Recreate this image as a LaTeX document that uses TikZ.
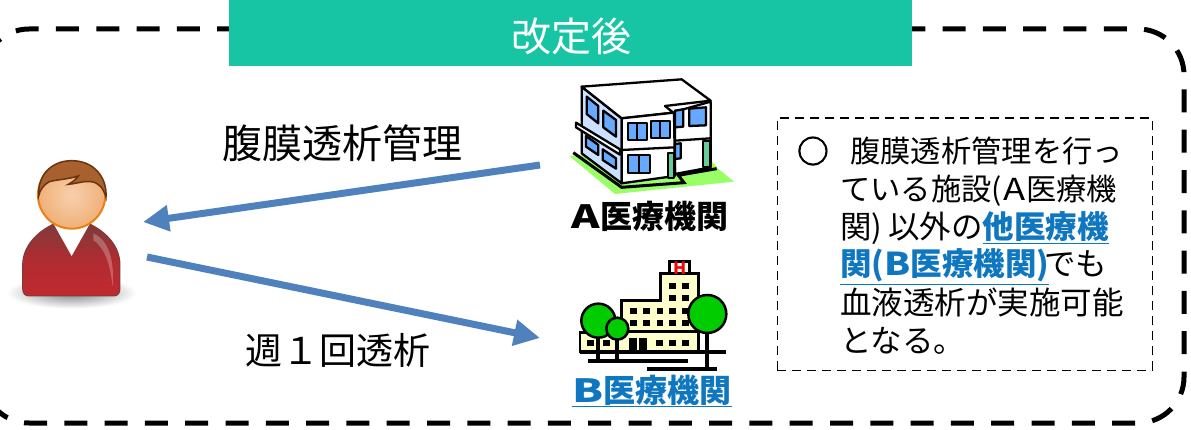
\documentclass[tikz,border=0pt]{standalone}
\usepackage{fontspec}
\setmainfont{Noto Sans CJK JP}
\newfontfamily\ringfont[FakeBold=2.5]{Noto Sans CJK JP}
\usetikzlibrary{arrows.meta}
\definecolor{banner}{HTML}{17C5A4}
\definecolor{linkblue}{HTML}{0F76C0}
\definecolor{arrowblue}{HTML}{4F81BD}
\definecolor{winblue}{HTML}{66AAFF}
\definecolor{wallblue}{HTML}{CCE0FF}
\definecolor{lawn}{HTML}{99FF66}
\definecolor{pillar}{HTML}{66CC99}
\definecolor{cream}{HTML}{FFFFCC}
\definecolor{tree}{HTML}{00CC00}
\definecolor{sweatertop}{HTML}{7E3B3B}
\definecolor{sweatermid}{HTML}{B02C30}
\definecolor{sweaterlow}{HTML}{C02A30}
\definecolor{hair}{HTML}{A8602E}
\definecolor{hairedge}{HTML}{6B3410}
\definecolor{skinin}{HTML}{F8D0AE}
\definecolor{skinout}{HTML}{F0B078}
\newcommand{\wideA}[1]{\scalebox{#1}[1]{A}}
\newcommand{\wideB}[1]{\scalebox{#1}[1]{B}}
\tikzset{
  outerdash/.style={draw=black,line width=5pt,dash pattern=on 23pt off 17.3pt,dash phase=37pt,rounded corners=46pt},
  innerdash/.style={draw=black,line width=1.6pt,dash pattern=on 9pt off 6pt},
  flow/.style={draw=arrowblue,line width=7pt,-{Triangle[length=26pt,width=25pt]}},
  biglabel/.style={font=\fontsize{37}{37}\selectfont,inner sep=0pt},
  hosplabel/.style={font=\fontsize{32}{32}\selectfont\bfseries,inner sep=0pt},
  noteline/.style={font=\fontsize{31.5}{31.5}\selectfont,inner sep=0pt,anchor=base west},
  ink/.style={draw=black,line width=2.3pt,line join=round},
  win/.style={ink,fill=winblue},
}
\begin{document}
\begin{tikzpicture}[x=1pt,y=-1pt]
\useasboundingbox (0,0) rectangle (1191,430);
\clip (0,0) rectangle (1191,430);
\fill[white] (0,0) rectangle (1191,430);
% outer frame and banner
\draw[outerdash] (-17,100) -- (-17,29) -- (1184,29) -- (1184,423) -- (-17,423) -- (-17,300);
\node[fill=banner,minimum width=683pt,minimum height=66pt,inner sep=0pt,anchor=north west] (banner) at (229,0) {};
\node[font=\fontsize{40}{40}\selectfont,text=white,inner sep=0pt] (bannertext) at (571,36) {改定後};
% note box
\node[innerdash,minimum width=375pt,minimum height=252pt,inner sep=0pt,anchor=north west] (notebox) at (776.5,117.5) {};
\node[noteline,font=\fontsize{31.5}{31.5}\ringfont] (n1a) at (797,163) {○};
\node[noteline,font=\fontsize{30.3}{30.3}\selectfont] (n1) at (850,163) {腹膜透析管理を行っ};
\node[noteline,font=\fontsize{30.3}{30.3}\selectfont] (n2) at (840,201) {ている施設(\kern2pt\wideA{1.2}医療機};
\node[noteline] (n3) at (840,239) {関)\kern6pt 以外の\textcolor{linkblue}{\bfseries\underline{他医療機}}};
\node[noteline] (n4) at (840,276) {\textcolor{linkblue}{\bfseries\underline{関(\wideB{1.2}医療機関)}}\kern-5pt でも};
\node[noteline] (n5) at (840,314) {血液透析が実施可能};
\node[noteline] (n6) at (840,352) {となる。};
% labels
\node[biglabel,font=\fontsize{40}{40}\selectfont] (l1) at (342,143) {腹膜透析管理};
\node[biglabel] (l2) at (338,350) {週１回透析};
\node[hosplabel] (la) at (650,216) {\wideA{1.35}医療機関};
\node[hosplabel,text=linkblue] (lb) at (652,391) {\underline{\wideB{1.4}医療機関}};
% person
\begin{scope}[shift={(0,140)},x=0.3333pt,y=-0.3333pt]
\shade[inner color=black!50,outer color=white] (215,458) ellipse [x radius=195,y radius=48];
\draw[draw=sweatertop,line width=1pt,top color=sweatertop,bottom color=sweaterlow,middle color=sweatermid]
  (68,445) -- (68,375) .. controls (68,320) and (110,275) .. (165,250) -- (265,250) .. controls (320,275) and (360,320) .. (360,375) -- (360,445) .. controls (360,462) and (352,468) .. (340,468) -- (88,468) .. controls (76,468) and (68,462) .. (68,445) -- cycle;
\fill[white] (160,250) -- (215,348) -- (270,250) -- cycle;
\fill[white,opacity=.25] (280,280) .. controls (315,295) and (345,340) .. (338,440) .. controls (330,370) and (315,325) .. (280,300) -- cycle;
\draw[draw=orange!70!brown,line width=2pt,inner color=skinin,outer color=skinout] (215,165) circle (101);
\fill[hair,draw=hairedge,line width=1.5pt] (116,168) .. controls (112,100) and (160,62) .. (215,62) .. controls (280,62) and (322,110) .. (318,172) .. controls (310,145) and (297,127) .. (272,125) .. controls (252,122) and (235,130) .. (205,133) .. controls (218,126) and (228,118) .. (235,108) .. controls (205,118) and (175,118) .. (148,125) .. controls (130,135) and (120,150) .. (116,168) -- cycle;
\end{scope}
% building A
\begin{scope}[shift={(560,70)},x=0.3333pt,y=-0.3333pt]
\fill[lawn] (28,258) -- (165,372) -- (522,335) -- (455,280) -- (300,240) -- cycle;
\fill[lawn!70!yellow!90!green] (345,310) -- (470,290) -- (440,260) -- (345,270) -- cycle;
\draw[ink,fill=wallblue] (65,50) -- (185,145) -- (185,340) -- (65,250) -- cycle;
\draw[ink,fill=white] (345,125) -- (452,95) -- (452,292) -- (345,312) -- cycle;
\draw[ink,fill=white] (65,50) -- (365,28) -- (452,92) -- (315,108) -- (340,128) -- (185,145) -- cycle;
\draw[ink,fill=white] (185,145) -- (342,128) -- (345,318) -- (185,340) -- cycle;
\draw[ink] (185,240) -- (345,232);
\draw[ink] (345,212) -- (452,205);
\draw[win] (80,80) -- (115,108) -- (115,160) -- (80,132) -- cycle;
\draw[win] (130,122) -- (168,150) -- (168,200) -- (130,172) -- cycle;
\draw[win] (78,198) -- (115,225) -- (115,255) -- (78,230) -- cycle;
\draw[win] (128,238) -- (168,265) -- (168,296) -- (128,270) -- cycle;
\draw[win] (203,160) rectangle (260,210); \draw[ink] (232,158) -- (232,210);
\draw[win] (272,152) rectangle (330,205); \draw[ink] (301,150) -- (301,205);
\draw[win] (203,255) rectangle (270,310); \draw[ink] (237,253) -- (237,310);
\draw[win] (345,122) -- (370,118) -- (370,170) -- (345,172) -- cycle;
\draw[win] (388,116) -- (438,112) -- (438,166) -- (388,168) -- cycle;
\draw[win] (345,222) -- (362,220) -- (362,265) -- (345,267) -- cycle;
\draw[ink,fill=white] (48,158) -- (180,238) -- (180,254) -- (48,172) -- cycle;
\draw[ink,fill=pillar] (324,248) rectangle (342,325);
\draw[ink,fill=pillar] (430,212) rectangle (449,292);
\draw[draw=black,line width=3pt] (40,248) -- (185,352) -- (372,338) -- (355,316) -- (470,296);
\end{scope}
% hospital B
\begin{scope}[shift={(560,250)},x=0.3333pt,y=-0.3333pt]
\draw[draw=black,line width=2.5pt,fill=cream] (60,305) -- (60,247) -- (185,247) -- (185,152) -- (302,152) -- (302,70) -- (415,70) -- (415,305) -- cycle;
\draw[draw=black,line width=2.5pt] (185,245) -- (415,245);
\draw[draw=black,line width=3pt,fill=white] (330,35) rectangle (388,72);
\node[font=\fontsize{17}{17}\selectfont\bfseries,text=red,inner sep=0pt] (hsign) at (359,56) {H};
\foreach \p in {(327,98),(366,98),(327,136),(366,136),(210,173),(250,173),(290,173),(327,173),(366,173),(210,210),(250,210),(290,210),(327,210),(366,210),(288,270),(327,270),(366,270),(82,270),(130,270)}
  \fill[black] \p rectangle ++(20,18);
\fill[black] (208,265) rectangle (231,305);
\fill[black] (238,265) rectangle (261,305);
\draw[draw=black,line width=4pt] (60,305) -- (498,305);
\draw[draw=black,line width=4pt] (85,333) -- (385,333);
\draw[draw=black,line width=4pt] (262,356) -- (472,356);
\draw[draw=black,line width=4pt] (115,250) -- (115,333);
\draw[draw=black,line width=4pt] (172,260) -- (172,333);
\draw[draw=black,line width=4pt] (441,240) -- (441,356);
\draw[draw=black,line width=2.5pt,fill=tree] (115,212) circle (51);
\draw[draw=black,line width=2.5pt,fill=tree] (172,236) circle (33);
\draw[draw=black,line width=2.5pt,fill=tree] (442,192) circle (57);
\end{scope}
% connectors
\coordinate (a1) at (540,165);
\coordinate (a2) at (143,222);
\coordinate (b1) at (147,257);
\coordinate (b2) at (540,338);
\draw[flow] (a1) -- (a2);
\draw[flow] (b1) -- (b2);
\end{tikzpicture}
\end{document}
